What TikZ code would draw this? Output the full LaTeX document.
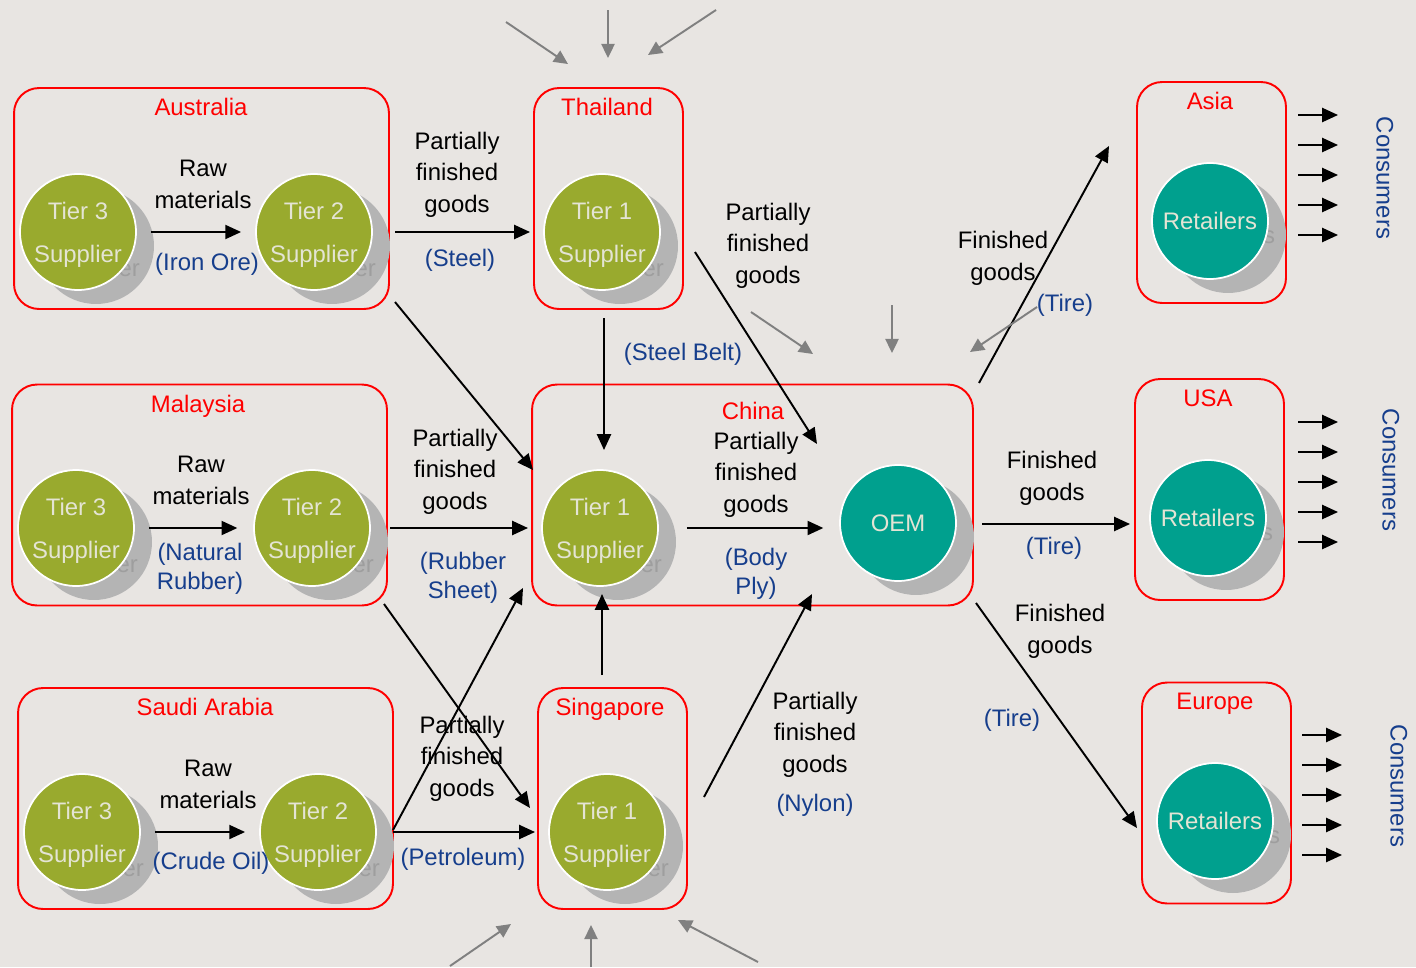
\documentclass[tikz,border=0pt]{standalone}
\usepackage{fontspec}
\setmainfont{Liberation Sans}
\usetikzlibrary{arrows.meta}

\definecolor{bgcol}{RGB}{232,229,226}
\definecolor{tiergreen}{RGB}{153,170,46}
\definecolor{oemteal}{RGB}{0,160,142}
\definecolor{goodsblue}{RGB}{22,62,140}
\definecolor{shadowgray}{RGB}{180,180,180}
\definecolor{ghostgray}{RGB}{158,158,158}
\definecolor{circtext}{RGB}{228,228,212}
\definecolor{feedgray}{RGB}{128,128,128}

\newcommand{\lblfont}{\fontsize{13.6}{18}\selectfont}
\newcommand{\kindfont}{\fontsize{13.6}{16.5}\selectfont}
\newcommand{\circfont}{\fontsize{13.6}{24.4}\selectfont}

\begin{document}
\begin{tikzpicture}[x=0.02cm, y=-0.02cm,
    region/.style={draw=red, line width=1.1pt, rounded corners=0.5cm, minimum height=4.42cm, inner sep=0pt},
    title/.style={text=red, font=\lblfont, text depth=0pt},
    tier/.style={circle, fill=tiergreen, draw=white, line width=1pt, minimum size=2.32cm, inner sep=0pt, text=circtext, align=center, font=\circfont, text depth=0pt},
    hub/.style={tier, fill=oemteal},
    shade/.style={circle, fill=shadowgray, minimum size=2.32cm, inner sep=0pt, text=ghostgray, align=center, font=\circfont, text depth=0pt},
    flow/.style={-{Triangle[length=9pt, width=8pt]}, line width=1.1pt},
    feed/.style={flow, draw=feedgray, -{Triangle[length=8pt, width=7.5pt]}},
    goods/.style={align=center, font=\lblfont, text depth=0pt},
    kind/.style={align=center, text=goodsblue, font=\kindfont, text depth=0pt}
]

    % Page
    \useasboundingbox (0,0) rectangle (1416,967);
    \fill [bgcol] (0,0) rectangle (1416,967);

    % ---- Regions ----
    \node [region, minimum width=7.5cm] (ausbox) at (201.5,198.5) {};
    \node [region, minimum width=2.98cm] (thaibox) at (608.5,198.5) {};
    \node [region, minimum width=7.5cm] (malbox) at (199.5,495) {};
    \node [region, minimum width=8.82cm] (chinabox) at (752.5,495) {};
    \node [region, minimum width=7.5cm] (saudibox) at (205.5,798.5) {};
    \node [region, minimum width=2.98cm] (singbox) at (612.5,798.5) {};
    \node [region, minimum width=2.98cm] (asiabox) at (1211.5,192.5) {};
    \node [region, minimum width=2.98cm] (usabox) at (1209.5,489.5) {};
    \node [region, minimum width=2.98cm] (eurobox) at (1216.5,793) {};

    \node [title] (ausname) at (201,107) {Australia};
    \node [title] (thainame) at (607,107) {Thailand};
    \node [title] (malname) at (198,404) {Malaysia};
    \node [title] (chinaname) at (753,411) {China};
    \node [title] (saudiname) at (205,707) {Saudi Arabia};
    \node [title] (singname) at (610,707) {Singapore};
    \node [title] (asianame) at (1210,101) {Asia};
    \node [title] (usaname) at (1208,398) {USA};
    \node [title] (euroname) at (1215,701) {Europe};

    % ---- Shadows ----
    \node [shade] (aus3s) at (96,246) {Tier 3\\Supplier};
    \node [shade] (aus2s) at (332,246) {Tier 2\\Supplier};
    \node [shade] (thai1s) at (620,246) {Tier 1\\Supplier};
    \node [shade] (mal3s) at (94,542) {Tier 3\\Supplier};
    \node [shade] (mal2s) at (330,542) {Tier 2\\Supplier};
    \node [shade] (china1s) at (618,542) {Tier 1\\Supplier};
    \node [shade] (oems) at (916,537) {OEM};
    \node [shade] (saudi3s) at (100,846) {Tier 3\\Supplier};
    \node [shade] (saudi2s) at (336,846) {Tier 2\\Supplier};
    \node [shade] (sing1s) at (625,846) {Tier 1\\Supplier};
    \node [shade] (asiarets) at (1228,235) {Retailers};
    \node [shade] (usarets) at (1226,532) {Retailers};
    \node [shade] (eurorets) at (1233,835) {Retailers};

    % ---- Actors ----
    \node [tier] (aus3) at (78,232) {Tier 3\\Supplier};
    \node [tier] (aus2) at (314,232) {Tier 2\\Supplier};
    \node [tier] (thai1) at (602,232) {Tier 1\\Supplier};
    \node [tier] (mal3) at (76,528) {Tier 3\\Supplier};
    \node [tier] (mal2) at (312,528) {Tier 2\\Supplier};
    \node [tier] (china1) at (600,528) {Tier 1\\Supplier};
    \node [hub] (oem) at (898,523) {OEM};
    \node [tier] (saudi3) at (82,832) {Tier 3\\Supplier};
    \node [tier] (saudi2) at (318,832) {Tier 2\\Supplier};
    \node [tier] (sing1) at (607,832) {Tier 1\\Supplier};
    \node [hub] (asiaret) at (1210,221) {Retailers};
    \node [hub] (usaret) at (1208,518) {Retailers};
    \node [hub] (euroret) at (1215,821) {Retailers};

    % ---- Flows inside regions ----
    \draw [flow, shorten <=8pt, shorten >=8pt] (aus3) -- (aus2);
    \draw [flow, shorten <=8pt, shorten >=9pt] (mal3) -- (mal2);
    \draw [flow, shorten <=8pt, shorten >=8pt] (saudi3) -- (saudi2);
    \draw [flow, shorten <=16pt, shorten >=9pt] (china1.east) -- (oem.west |- china1);

    % Arrow ends
    \coordinate (ausE) at (395,232);
    \coordinate (thaiW) at (530,232);
    \coordinate (ausSE) at (395,302);
    \coordinate (chinaNW) at (533,470);
    \coordinate (thaiS) at (604,318);
    \coordinate (china1N) at (604,450);
    \coordinate (thaiSE) at (695,252);
    \coordinate (oemNW) at (817,444);
    \coordinate (malE) at (390,528);
    \coordinate (chinaW) at (528,528);
    \coordinate (malSE) at (384,604);
    \coordinate (singNW) at (530,808);
    \coordinate (saudiNE) at (393,830);
    \coordinate (chinaSW) at (523,588);
    \coordinate (saudiE) at (393,832);
    \coordinate (singW) at (535,832);
    \coordinate (singN) at (602,675);
    \coordinate (china1S) at (602,594);
    \coordinate (singNE) at (704,797);
    \coordinate (oemSW) at (812,594);
    \coordinate (chinaNE) at (979,383);
    \coordinate (asiaSW) at (1109,146);
    \coordinate (chinaE) at (982,524);
    \coordinate (usaW) at (1130,524);
    \coordinate (chinaSE) at (976,603);
    \coordinate (euroW) at (1137,828);

    % ---- Flows between regions ----
    \draw [flow] (ausE) -- (thaiW);
    \draw [flow] (ausSE) -- (chinaNW);
    \draw [flow] (thaiS) -- (china1N);
    \draw [flow] (thaiSE) -- (oemNW);
    \draw [flow] (malE) -- (chinaW);
    \draw [flow] (malSE) -- (singNW);
    \draw [flow] (saudiNE) -- (chinaSW);
    \draw [flow] (saudiE) -- (singW);
    \draw [flow] (singN) -- (china1S);
    \draw [flow] (singNE) -- (oemSW);
    \draw [flow] (chinaNE) -- (asiaSW);
    \draw [flow] (chinaE) -- (usaW);
    \draw [flow] (chinaSE) -- (euroW);

    % Outside inputs (gray)
    \coordinate (thaiInA) at (506,22);   \coordinate (thaiInA') at (568,64);
    \coordinate (thaiInB) at (608,10);   \coordinate (thaiInB') at (608,58);
    \coordinate (thaiInC) at (716,10);   \coordinate (thaiInC') at (648,55);
    \coordinate (chinaInA) at (751,312); \coordinate (chinaInA') at (813,354);
    \coordinate (chinaInB) at (892,305); \coordinate (chinaInB') at (892,353);
    \coordinate (chinaInC) at (1037,307); \coordinate (chinaInC') at (970,352);
    \coordinate (singInA) at (450,966);  \coordinate (singInA') at (511,924);
    \coordinate (singInB) at (591,967);  \coordinate (singInB') at (591,925);
    \coordinate (singInC) at (758,962);  \coordinate (singInC') at (678,920);

    \draw [feed] (thaiInA) -- (thaiInA');
    \draw [feed] (thaiInB) -- (thaiInB');
    \draw [feed] (thaiInC) -- (thaiInC');
    \draw [feed] (chinaInA) -- (chinaInA');
    \draw [feed] (chinaInB) -- (chinaInB');
    \draw [feed] (chinaInC) -- (chinaInC');
    \draw [feed] (singInA) -- (singInA');
    \draw [feed] (singInB) -- (singInB');
    \draw [feed] (singInC) -- (singInC');

    % Consumers
    \foreach \y in {115,145,175,205,235} {
        \coordinate (asiaC\y) at (1298,\y);
        \coordinate (asiaD\y) at (1338,\y);
        \draw [flow] (asiaC\y) -- (asiaD\y);
    }
    \foreach \y in {422,452,482,512,542} {
        \coordinate (usaC\y) at (1298,\y);
        \coordinate (usaD\y) at (1338,\y);
        \draw [flow] (usaC\y) -- (usaD\y);
    }
    \foreach \y in {735,765,795,825,855} {
        \coordinate (euroC\y) at (1302,\y);
        \coordinate (euroD\y) at (1342,\y);
        \draw [flow] (euroC\y) -- (euroD\y);
    }
    \node [kind, rotate=-90] (asiacons) at (1385,178) {Consumers};
    \node [kind, rotate=-90] (usacons) at (1391,470) {Consumers};
    \node [kind, rotate=-90] (eurocons) at (1399,786) {Consumers};

    % ---- Labels ----
    \node [goods] (ausraw) at (203,184) {Raw\\materials};
    \node [kind] (ausore) at (207,262) {(Iron Ore)};
    \node [goods] (malraw) at (201,480) {Raw\\materials};
    \node [kind] (malrub) at (200,566) {(Natural\\Rubber)};
    \node [goods] (saudiraw) at (208,784) {Raw\\materials};
    \node [kind] (saudioil) at (211,861) {(Crude Oil)};

    \node [goods] (steelpf) at (457,172) {Partially\\finished\\goods};
    \node [kind] (steel) at (460,258) {(Steel)};
    \node [goods] (beltpf) at (768,243) {Partially\\finished\\goods};
    \node [kind] (belt) at (683,352) {(Steel Belt)};
    \node [goods] (sheetpf) at (455,469) {Partially\\finished\\goods};
    \node [kind] (sheet) at (463,575) {(Rubber\\Sheet)};
    \node [goods] (plypf) at (756,472) {Partially\\finished\\goods};
    \node [kind] (ply) at (756,571) {(Body\\Ply)};
    \node [goods] (petrolpf) at (462,756) {Partially\\finished\\goods};
    \node [kind] (petrol) at (463,857) {(Petroleum)};
    \node [goods] (nylonpf) at (815,732) {Partially\\finished\\goods};
    \node [kind] (nylon) at (815,803) {(Nylon)};

    \node [goods] (asiafg) at (1003,256) {Finished\\goods};
    \node [kind] (asiatire) at (1065,303) {(Tire)};
    \node [goods] (usafg) at (1052,476) {Finished\\goods};
    \node [kind] (usatire) at (1054,546) {(Tire)};
    \node [goods] (eurofg) at (1060,629) {Finished\\goods};
    \node [kind] (eurotire) at (1012,718) {(Tire)};

\end{tikzpicture}
\end{document}
